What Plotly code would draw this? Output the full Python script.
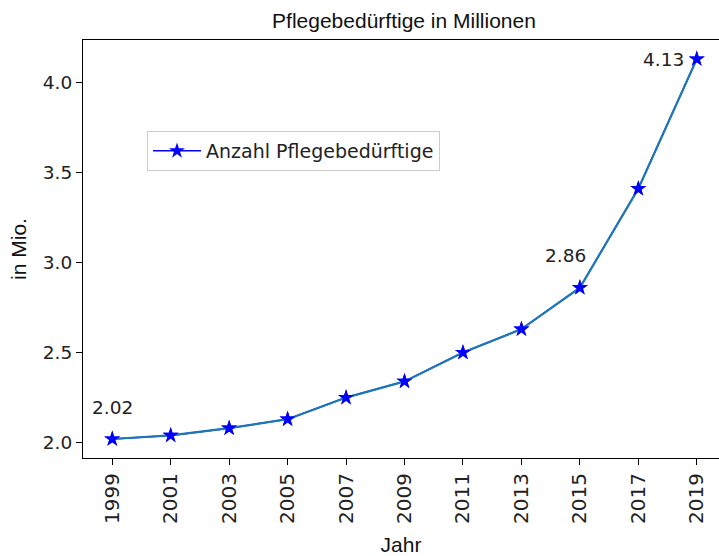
import plotly.graph_objects as go

# Pflegebedürftige in Deutschland (Millionen), Pflegestatistik
jahre = [1999, 2001, 2003, 2005, 2007, 2009, 2011, 2013, 2015, 2017, 2019]
anzahl = [2.02, 2.04, 2.08, 2.13, 2.25, 2.34, 2.50, 2.63, 2.86, 3.41, 4.13]
y_ticks = [2.0, 2.5, 3.0, 3.5, 4.0]
y_tick_text = ["2.0", "2.5", "3.0", "3.5", "4.0"]

# years whose value is written next to the point: (xanchor, xshift, yshift)
beschriftet = {1999: ("center", 0, 32),
               2015: ("center", -14, 32),
               2019: ("right", -11, 0)}

TICK_FONT = dict(family="DejaVu Sans", size=18.5, color="#222222")
XTICK_FONT = dict(family="DejaVu Sans", size=20, color="#222222")
LEGEND_FONT = dict(family="DejaVu Sans", size=19, color="#222222")
LABEL_FONT = dict(family="Liberation Sans, Arial", size=21, color="#111111")

fig = go.Figure()

# legend entry: blue line with star marker
fig.add_trace(go.Scatter(
    x=jahre, y=anzahl, mode="lines+markers", name="Anzahl Pflegebedürftige",
    line=dict(color="blue", width=1.5),
    marker=dict(symbol="star", size=12, color="blue"),
))
# connecting line in the default blue
fig.add_trace(go.Scatter(
    x=jahre, y=anzahl, mode="lines", showlegend=False,
    line=dict(color="#1f77b4", width=2.2),
))
# star markers on top
fig.add_trace(go.Scatter(
    x=jahre, y=anzahl, mode="markers", showlegend=False,
    marker=dict(symbol="star", size=12, color="blue"),
))

for j, v in zip(jahre, anzahl):
    if j in beschriftet:
        xa, dx, dy = beschriftet[j]
        fig.add_annotation(
            x=j, y=v, text=f"{v:.2f}", showarrow=False,
            xanchor=xa, yanchor="middle", xshift=dx, yshift=dy,
            font=TICK_FONT,
        )

fig.update_layout(
    width=719, height=556,
    margin=dict(l=83, r=0, t=40, b=98),
    paper_bgcolor="white", plot_bgcolor="white",
    title=dict(text="Pflegebedürftige in Millionen", x=404 / 719,
               xanchor="center", y=1 - 21 / 556, yanchor="middle",
               font=LABEL_FONT),
    showlegend=True,
    legend=dict(x=(147 - 83) / 636, y=(458 - 131) / 418, xanchor="left",
                yanchor="top", bgcolor="white", bordercolor="#cccccc",
                borderwidth=1, font=LEGEND_FONT, itemwidth=48),
)

fig.update_xaxes(
    range=[1998, 2019.76], tickmode="array", tickvals=jahre,
    ticktext=[str(j) for j in jahre], tickangle=-90,
    showgrid=False, zeroline=False, showline=True, mirror=True,
    linecolor="black", linewidth=1.2, ticks="outside", ticklen=6,
    tickcolor="black", tickfont=XTICK_FONT, automargin=False,
    title=dict(text="Jahr", font=LABEL_FONT, standoff=18),
)
fig.update_yaxes(
    range=[1.9145, 4.2355], tickmode="array", tickvals=y_ticks,
    ticktext=y_tick_text,
    showgrid=False, zeroline=False, showline=True, mirror=False,
    linecolor="black", linewidth=1.2, ticks="outside", ticklen=6,
    tickcolor="black", tickfont=TICK_FONT, automargin=False,
    title=dict(text="in Mio.", font=LABEL_FONT, standoff=10),
)

fig.write_html("out.html")
